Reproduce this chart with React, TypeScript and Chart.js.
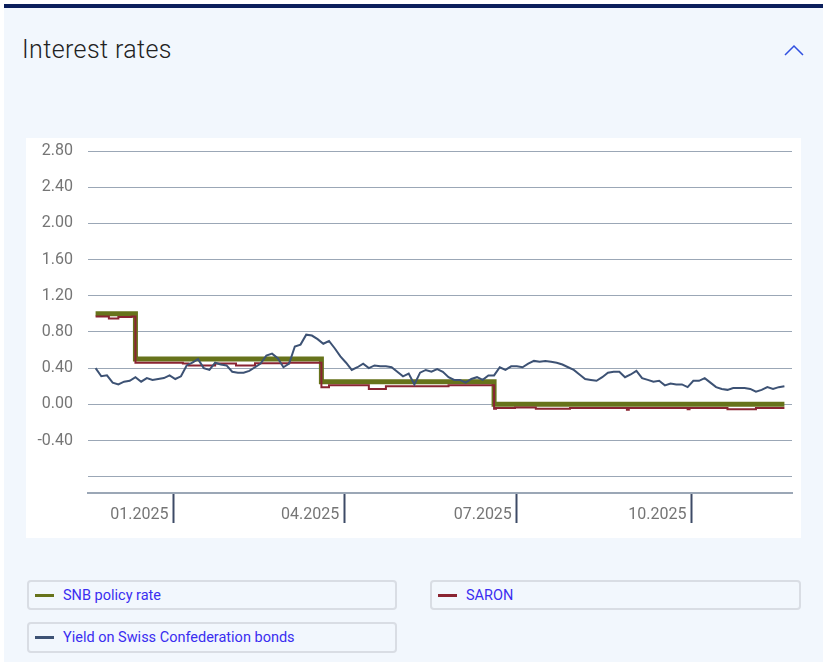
import React, { useEffect, useRef } from "react";
import { Chart, registerables } from "chart.js";

Chart.register(...registerables);

// ---- Data ----
const snbDates = ["2024-11-21", "2024-12-12", "2025-03-20", "2025-06-19", "2025-11-19"];
const snbValues = [1.0, 0.5, 0.25, 0.0, 0.0];

const saronDates = [
  "2024-11-21", "2024-11-28", "2024-12-03", "2024-12-10", "2024-12-12",
  "2025-01-06", "2025-01-09", "2025-01-23", "2025-02-03", "2025-02-13",
  "2025-03-03", "2025-03-20", "2025-03-24", "2025-04-14", "2025-04-23",
  "2025-05-26", "2025-06-19", "2025-06-20", "2025-06-30", "2025-07-11",
  "2025-07-29", "2025-08-28", "2025-08-29", "2025-09-29", "2025-09-30",
  "2025-10-20", "2025-11-04", "2025-11-19",
];
const saronValues = [
  0.97, 0.95, 0.965, 0.97, 0.46,
  0.45, 0.43, 0.45, 0.43, 0.455,
  0.46, 0.19, 0.21, 0.17, 0.2,
  0.21, -0.05, -0.04, -0.035, -0.05,
  -0.04, -0.06, -0.04, -0.055, -0.04,
  -0.055, -0.04, -0.04,
];

// Yield on Swiss Confederation bonds, one reading every 3 days from the start date
const yieldStart = "2024-11-21";
const yieldStepDays = 3;
const yieldValues = [
  0.40, 0.31, 0.32, 0.24, 0.22, 0.25, 0.26, 0.30, 0.25, 0.29,
  0.27, 0.28, 0.29, 0.32, 0.28, 0.31, 0.43, 0.46, 0.50, 0.40,
  0.38, 0.46, 0.44, 0.43, 0.36, 0.35, 0.35, 0.37, 0.41, 0.45,
  0.54, 0.56, 0.51, 0.41, 0.45, 0.64, 0.66, 0.77, 0.76, 0.72,
  0.67, 0.70, 0.62, 0.53, 0.46, 0.38, 0.41, 0.45, 0.40, 0.43,
  0.42, 0.42, 0.41, 0.36, 0.31, 0.34, 0.22, 0.35, 0.38, 0.36,
  0.39, 0.36, 0.30, 0.27, 0.27, 0.24, 0.28, 0.30, 0.27, 0.32,
  0.32, 0.41, 0.38, 0.42, 0.42, 0.41, 0.45, 0.48, 0.47, 0.48,
  0.47, 0.46, 0.44, 0.41, 0.38, 0.33, 0.28, 0.27, 0.26, 0.30,
  0.35, 0.36, 0.36, 0.30, 0.33, 0.37, 0.29, 0.27, 0.25, 0.26,
  0.21, 0.23, 0.22, 0.22, 0.19, 0.26, 0.26, 0.29, 0.24, 0.19,
  0.17, 0.16, 0.18, 0.18, 0.18, 0.17, 0.14, 0.16, 0.19, 0.17,
  0.19, 0.20,
];

const xTickDates = ["2025-01-01", "2025-04-01", "2025-07-01", "2025-10-01"];
const xTickLabels = ["01.2025", "04.2025", "07.2025", "10.2025"];
const xRange = ["2024-11-17", "2025-11-23"];

const yTicks = [-0.8, -0.4, 0, 0.4, 0.8, 1.2, 1.6, 2.0, 2.4, 2.8];
const yHiddenLabels = [-0.8];
const yRange = [-0.98, 2.8];

const seriesNames = ["SNB policy rate", "SARON", "Yield on Swiss Confederation bonds"];
const seriesColors = ["#67731b", "#8a2432", "#3d5274"];

// ---- helpers ----
const DAY = 86400000;
const EPOCH = Date.UTC(2025, 0, 1);
function day(s: string): number {
  const [y, m, d] = s.split("-").map(Number);
  return (Date.UTC(y, m - 1, d) - EPOCH) / DAY;
}

const FONT = "Roboto, 'Noto Sans', sans-serif";

export default function App() {
  const ref = useRef<HTMLCanvasElement>(null);

  useEffect(() => {
    document.body.style.margin = "0";
    const snbData = snbDates.map((d, i) => ({ x: day(d), y: snbValues[i] }));
    const saronData = saronDates.map((d, i) => ({ x: day(d), y: saronValues[i] }));
    const y0 = day(yieldStart);
    const yieldData = yieldValues.map((v, i) => ({ x: y0 + i * yieldStepDays, y: v }));
    const xTickDays = xTickDates.map(day);

    const chart = new Chart(ref.current as HTMLCanvasElement, {
      type: "line",
      data: {
        datasets: [
          {
            label: seriesNames[2],
            data: yieldData,
            borderColor: seriesColors[2],
            borderWidth: 2,
            pointRadius: 0,
            tension: 0,
          },
          {
            label: seriesNames[1],
            data: saronData,
            borderColor: seriesColors[1],
            borderWidth: 2,
            pointRadius: 0,
            stepped: "before",
          },
          {
            label: seriesNames[0],
            data: snbData,
            borderColor: seriesColors[0],
            borderWidth: 5,
            pointRadius: 0,
            stepped: "before",
          },
        ],
      },
      options: {
        animation: false,
        responsive: false,
        parsing: false,
        layout: { padding: { left: 0, top: 13, right: 9, bottom: 0 } },
        plugins: { legend: { display: false }, tooltip: { enabled: false } },
        scales: {
          x: {
            type: "linear",
            min: day(xRange[0]),
            max: day(xRange[1]),
            afterBuildTicks: (axis: any) => {
              axis.ticks = xTickDays.map((v) => ({ value: v }));
            },
            afterFit: (axis: any) => {
              axis.height = 45;
              axis.paddingLeft = 0;
              axis.paddingRight = 0;
            },
            border: { display: true, color: "#9ba7b6", width: 2 },
            grid: {
              drawOnChartArea: false,
              drawTicks: true,
              tickLength: 30,
              tickColor: "#3d4a66",
              tickWidth: 2,
            },
            ticks: {
              autoSkip: false,
              maxRotation: 0,
              minRotation: 0,
              align: "end",
              labelOffset: -5,
              padding: -18,
              color: "#757575",
              font: { family: FONT, size: 16 },
              callback: (v: any) => {
                const i = xTickDays.indexOf(Number(v));
                return i >= 0 ? xTickLabels[i] : "";
              },
            },
          },
          y: {
            type: "linear",
            min: yRange[0],
            max: yRange[1],
            afterBuildTicks: (axis: any) => {
              axis.ticks = yTicks.map((v) => ({ value: v }));
            },
            afterFit: (axis: any) => {
              axis.width = 62;
              axis.paddingTop = 0;
              axis.paddingBottom = 0;
            },
            border: { display: false },
            grid: { color: "#9ba7b6", lineWidth: 1, drawTicks: false },
            ticks: {
              padding: 15,
              color: "#757575",
              font: { family: FONT, size: 16 },
              callback: (v: any) => {
                const n = Number(v);
                if (yHiddenLabels.some((h) => Math.abs(h - n) < 1e-9)) return "";
                return n.toFixed(2);
              },
            },
          },
        },
      },
    } as any);
    return () => chart.destroy();
  }, []);

  const legendBox = (left: number, top: number, width: number, height: number, idx: number) => (
    <div
      key={idx}
      style={{
        position: "absolute",
        left,
        top,
        width: width - 4,
        height: height - 4,
        border: "2px solid #d9dde4",
        borderRadius: 4,
        display: "flex",
        alignItems: "center",
      }}
    >
      <div style={{ width: 19, height: 3, background: seriesColors[idx], marginLeft: 6 }} />
      <span
        style={{
          marginLeft: 9,
          fontFamily: FONT,
          fontSize: 14.5,
          color: "#3a2ef0",
        }}
      >
        {seriesNames[idx]}
      </span>
    </div>
  );

  return (
    <div
      style={{
        position: "relative",
        width: 827,
        height: 662,
        background: "#ffffff",
        overflow: "hidden",
        fontFamily: FONT,
      }}
    >
      <div
        style={{
          position: "absolute",
          left: 4,
          top: 4,
          width: 819,
          height: 658,
          background: "#f2f7fd",
        }}
      />
      <div
        style={{
          position: "absolute",
          left: 4,
          top: 4,
          width: 819,
          height: 4,
          background: "#0b1f5c",
        }}
      />
      <div
        style={{
          position: "absolute",
          left: 22,
          top: 35,
          fontSize: 25,
          lineHeight: "30px",
          fontWeight: 300,
          color: "#222222",
          letterSpacing: 0.4,
        }}
      >
        Interest rates
      </div>
      <svg
        style={{ position: "absolute", left: 782, top: 42, overflow: "visible" }}
        width={24}
        height={16}
      >
        <polyline points="3,13 12,4 21,13" fill="none" stroke="#3050e0" strokeWidth={1.5} />
      </svg>
      <div
        style={{
          position: "absolute",
          left: 26,
          top: 138,
          width: 775,
          height: 400,
          background: "#ffffff",
        }}
      >
        <canvas ref={ref} width={775} height={400} style={{ display: "block", width: 775, height: 400 }} />
      </div>
      {legendBox(27, 580, 370, 30, 0)}
      {legendBox(430, 580, 371, 30, 1)}
      {legendBox(27, 622, 370, 31, 2)}
    </div>
  );
}
